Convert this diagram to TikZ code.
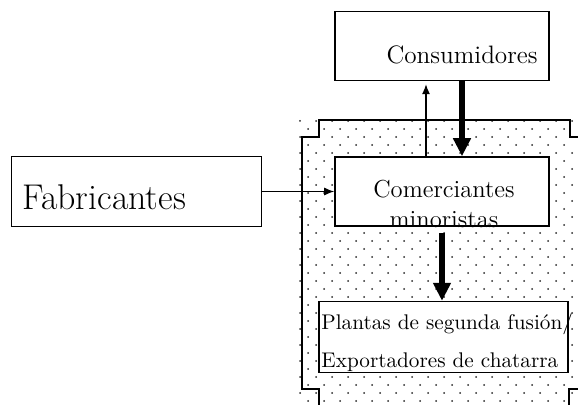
\documentclass[tikz,border=0pt]{standalone}
\usepackage{fontspec}
\usetikzlibrary{arrows.meta,positioning,backgrounds}
\tikzset{
  box/.style={draw, line width=0.8pt, fill=white, rectangle, inner sep=0pt}, % the boxes
  txt/.style={inner sep=0pt, text centered},
  thinarrow/.style={-{Latex[length=5pt,width=4pt]}, line width=0.6pt},
  thickarrow/.style={-{Triangle[length=9pt,width=8.5pt]}, line width=3pt},
  frame/.style={line width=0.8pt},
  dot/.style={fill=black!85}
}
\begin{document}
\begin{tikzpicture}[x=0.5pt, y=-0.5pt]
    \useasboundingbox (0,0) rectangle (578,405);

    % Background: dotted frame
    \begin{scope}
      \clip (299,118) rectangle (578,405);
      \foreach \k in {0,...,35}{
        \pgfmathsetmacro{\off}{mod(\k,2)*8}
        \foreach \j in {0,...,17}
          \fill[dot] (300+\off+16*\j, 121+8*\k) circle (0.5pt);
      }
    \end{scope}
    \draw[frame] (578,137) -- (570,137) -- (570,120) -- (319,120) -- (319,137) -- (302,137) -- (302,389) -- (319,389) -- (319,405);
    \draw[frame] (578,389) -- (569,389) -- (569,405);

    % Nodes
    \node[box, minimum width=107pt, minimum height=34.5pt] (com) at (442,191.5) {};
    \node[box, minimum width=107pt, minimum height=34.5pt, above=37.5pt of com] (cons) {};
    \node[box, minimum width=125pt, minimum height=35pt, left=36pt of com] (fab) {};
    \node[box, minimum width=124.5pt, minimum height=35.5pt, below=37pt of com, xshift=0.75pt] (plan) {};

    \node[txt, font=\fontsize{12.6}{15}\selectfont, anchor=base east] (consText) at (538,64) {Consumidores};
    \node[txt, font=\fontsize{17.9}{21}\selectfont, anchor=base west] (fabText) at (22,210) {Fabricantes};
    \node[txt, font=\fontsize{12.3}{15}\selectfont, align=center, anchor=base] (comText) at (444,228) {Comerciantes\\minoristas};
    \node[txt, font=\fontsize{10.6}{19}\selectfont, align=left, anchor=base west] (planText) at (321,368) {Plantas de segunda fusión/\\Exportadores de chatarra};

    % Edges
    \draw[thinarrow] (fab.east) -- (com.west);
    \draw[thinarrow, shorten >=1.5pt] ([xshift=-8pt]com.north) -- ([xshift=-8pt]cons.south);
    \draw[thickarrow] ([xshift=10pt]cons.south) -- ([xshift=10pt]com.north);
    \draw[thickarrow, shorten <=3pt] (com.south) -- (com.south |- plan.north);

\end{tikzpicture}
\end{document}
